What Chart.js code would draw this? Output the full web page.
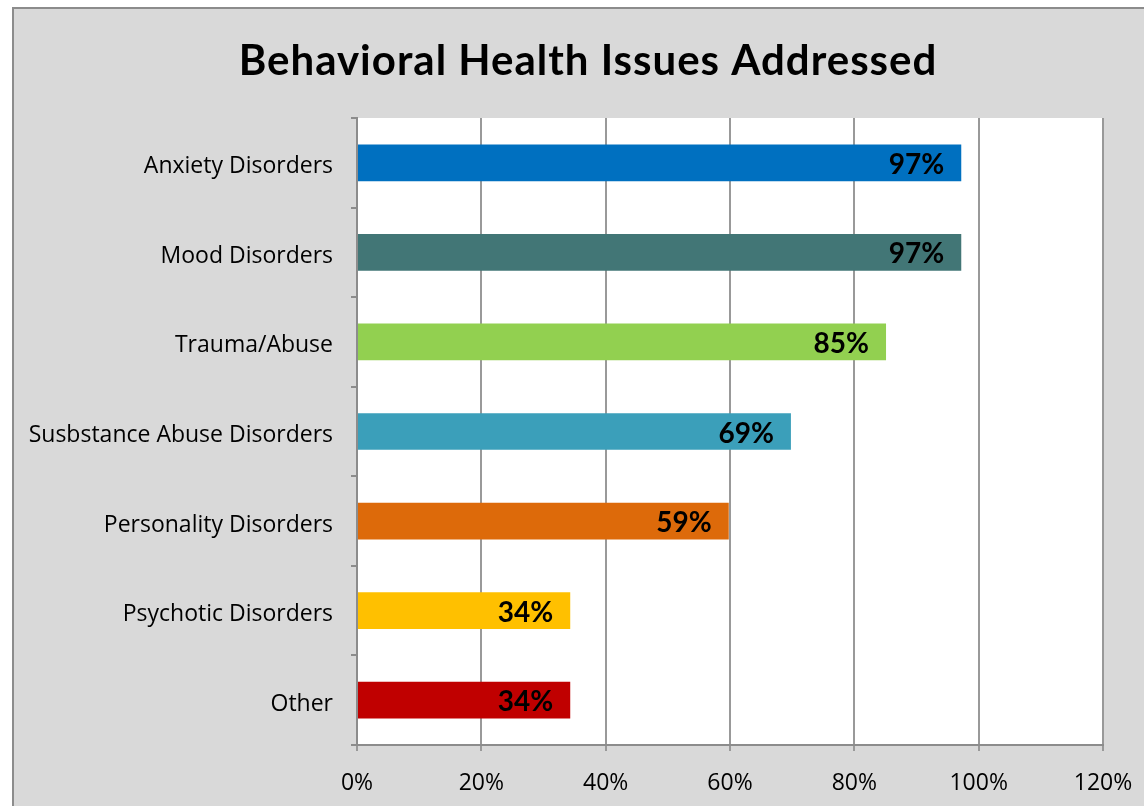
<!DOCTYPE html>
<html>
<head>
<meta charset="utf-8">
<script src="https://cdn.jsdelivr.net/npm/chart.js@4"></script>
<style>
  html, body { margin: 0; padding: 0; background: #ffffff; }
  #wrap { width: 1144px; height: 806px; }
</style>
</head>
<body>
<div id="wrap"><canvas id="chart" width="1144" height="806"></canvas></div>
<script>
const categories = [
    "Anxiety Disorders",
    "Mood Disorders",
    "Trauma/Abuse",
    "Susbstance Abuse Disorders",
    "Personality Disorders",
    "Psychotic Disorders",
    "Other"
];
const values = [97.2, 97.2, 85.1, 69.8, 59.8, 34.3, 34.3];
const valueLabels = ["97%", "97%", "85%", "69%", "59%", "34%", "34%"];
const barColors = ["#0070c0", "#427676", "#92d050", "#3b9fba", "#dd6a0a", "#ffc000", "#c00000"];
const chartTitle = "Behavioral Health Issues Addressed";

const FONT = "Lato, 'Open Sans', sans-serif";
const TICK_FONT = "'Open Sans', Lato, sans-serif";

// grey frame + title
const framePlugin = {
    id: "frame",
    beforeDraw(chart) {
        const ctx = chart.ctx;
        ctx.save();
        ctx.fillStyle = "#ffffff";
        ctx.fillRect(0, 0, chart.width, chart.height);
        ctx.fillStyle = "#d9d9d9";
        ctx.fillRect(13, 8, chart.width, chart.height);
        ctx.strokeStyle = "#8c8c8c";
        ctx.lineWidth = 2;
        ctx.strokeRect(13, 8, chart.width + 10, chart.height + 10);
        const a = chart.chartArea;
        ctx.fillStyle = "#ffffff";
        ctx.fillRect(a.left, a.top, a.right - a.left, a.bottom - a.top);
        ctx.fillStyle = "#000000";
        ctx.font = "bold 42px " + FONT;
        ctx.letterSpacing = "1px";
        ctx.textAlign = "center";
        ctx.textBaseline = "middle";
        ctx.fillText(chartTitle, 588, 61);
        ctx.restore();
    }
};

// bold value labels inside the bar end
const valueLabelPlugin = {
    id: "valueLabels",
    afterDatasetsDraw(chart) {
        const ctx = chart.ctx;
        const meta = chart.getDatasetMeta(0);
        ctx.save();
        ctx.fillStyle = "#000000";
        ctx.font = "bold 28px " + FONT;
        ctx.textAlign = "right";
        ctx.textBaseline = "middle";
        meta.data.forEach((bar, i) => {
            ctx.fillText(valueLabels[i], bar.x - 17, bar.y + 2);
        });
        ctx.restore();
    }
};

new Chart(document.getElementById("chart"), {
    type: "bar",
    data: {
        labels: categories,
        datasets: [{
            data: values,
            backgroundColor: barColors,
            borderWidth: 0,
            barPercentage: 0.41,
            categoryPercentage: 1
        }]
    },
    options: {
        indexAxis: "y",
        responsive: false,
        animation: false,
        layout: { padding: { top: 118, right: 41, left: 0, bottom: 0 } },
        plugins: {
            legend: { display: false },
            title: { display: false },
            tooltip: { enabled: false }
        },
        scales: {
            x: {
                min: 0,
                max: 120,
                ticks: {
                    stepSize: 20,
                    color: "#000000",
                    font: { family: TICK_FONT, size: 23 },
                    padding: 19,
                    callback: v => v + "%"
                },
                grid: {
                    color: "#999999",
                    lineWidth: 2,
                    tickLength: 6
                },
                border: { color: "#8c8c8c", width: 2 },
                afterFit(scale) {
                    scale.height = 61;
                    scale.paddingLeft = 0;
                    scale.paddingRight = 0;
                }
            },
            y: {
                ticks: {
                    color: "#000000",
                    font: { family: TICK_FONT, size: 23 },
                    padding: 18,
                    labelOffset: 4
                },
                grid: {
                    offset: true,
                    drawOnChartArea: false,
                    color: "#8c8c8c",
                    lineWidth: 2,
                    tickLength: 6
                },
                border: { color: "#8c8c8c", width: 2 },
                afterFit(scale) { scale.width = 357; }
            }
        }
    },
    plugins: [framePlugin, valueLabelPlugin]
});
</script>
</body>
</html>
